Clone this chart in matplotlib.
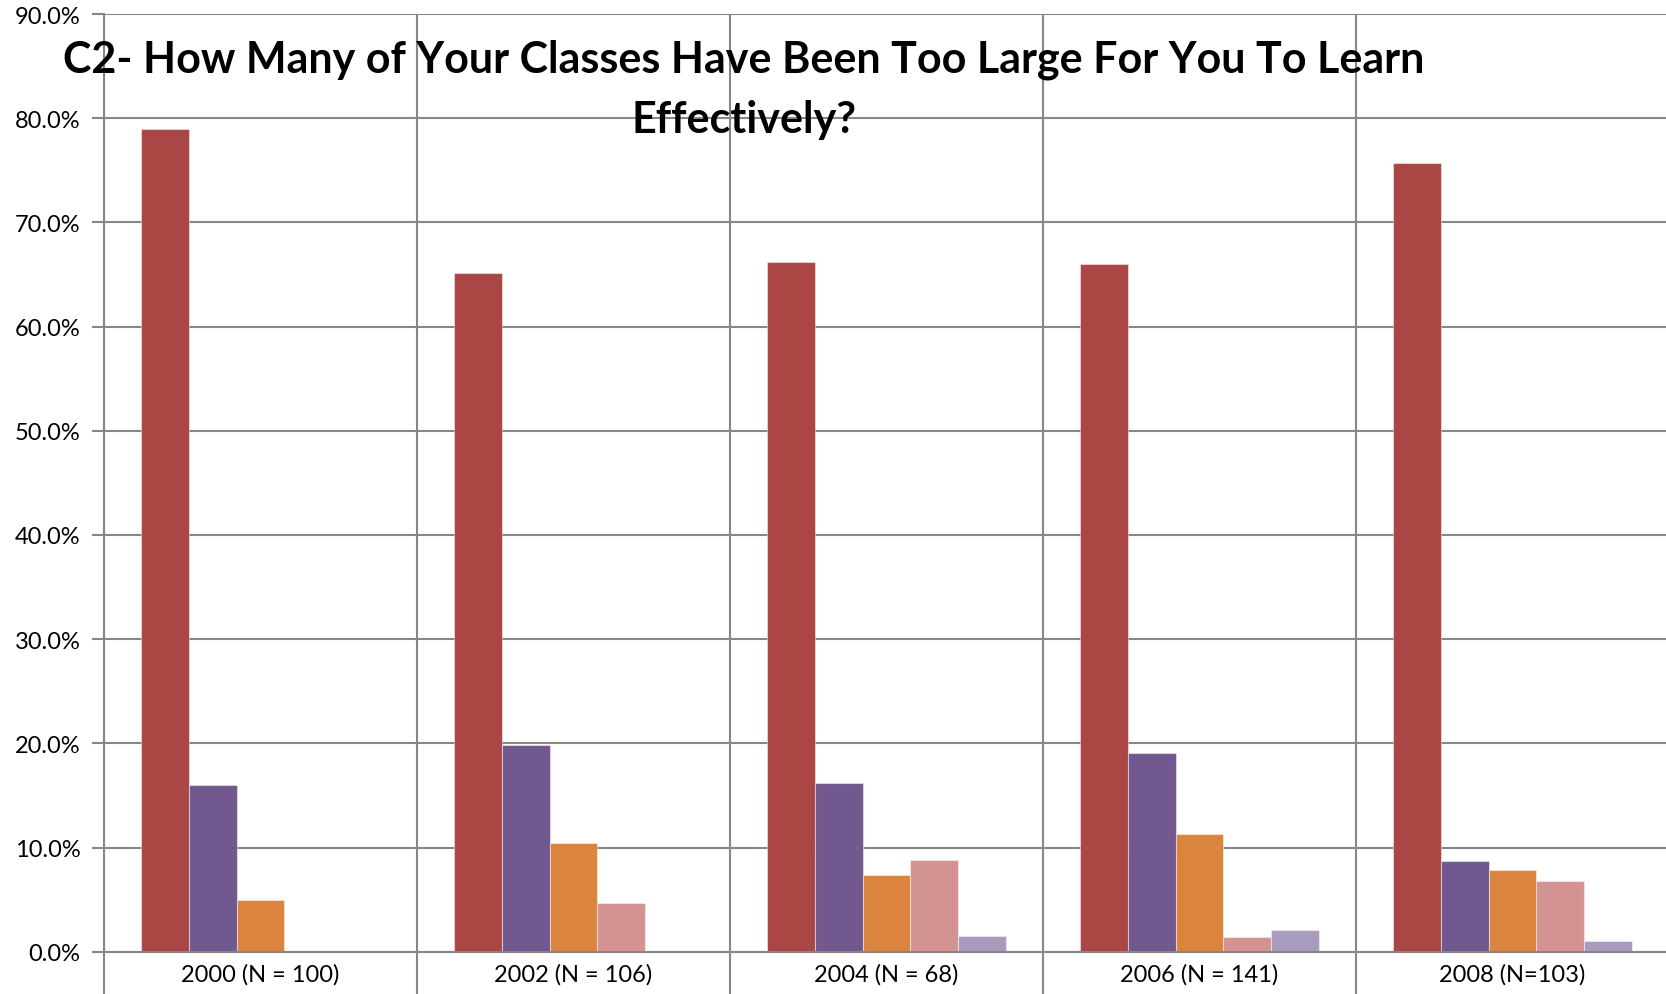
import matplotlib
matplotlib.use("Agg")
import matplotlib.pyplot as plt
import numpy as np
from matplotlib.ticker import FixedLocator, FuncFormatter

plt.rcParams['font.family'] = ['Lato', 'DejaVu Sans']

# Survey years with respondent counts
categories = ["2000 (N = 100)", "2002 (N = 106)", "2004 (N = 68)",
              "2006 (N = 141)", "2008 (N=103)"]

# Share of respondents (%) for each answer option, one list per option
series_a = [79.0, 65.1, 66.2, 66.0, 75.7]
series_b = [16.0, 19.8, 16.2, 19.1, 8.7]
series_c = [5.0, 10.4, 7.4, 11.3, 7.8]
series_d = [0.0, 4.7, 8.8, 1.4, 6.8]
series_e = [0.0, 0.0, 1.5, 2.1, 1.0]

series = [series_a, series_b, series_c, series_d, series_e]
colors = ["#AA4644", "#71598F", "#DB843E", "#D39392", "#A99BBE"]

title_lines = ["C2- How Many of Your Classes Have Been Too Large For You To Learn",
               "Effectively?"]

W, H = 1666, 995
fig = plt.figure(figsize=(W / 100, H / 100), dpi=100)
ax = fig.add_axes([104 / W, 1 - 952.7 / H, 1565 / W, (952.7 - 15) / H])

grid_color = "#878787"
x = np.arange(len(categories))
n = len(series)
bar_w = 0.153
for i, (vals, col) in enumerate(zip(series, colors)):
    offs = (i - (n - 1) / 2) * bar_w
    ax.bar(x + offs, vals, width=bar_w, color=col, edgecolor=(1, 1, 1, 0.45),
           linewidth=0.8, zorder=3)

ax.set_xlim(-0.5, len(categories) - 0.5)
ax.set_ylim(0, 90)

# Y axis
ax.yaxis.set_major_locator(FixedLocator(np.arange(0, 91, 10)))
ax.yaxis.set_major_formatter(FuncFormatter(lambda v, p: f"{v:.1f}%"))
ax.tick_params(axis='y', length=9, width=1.5, color=grid_color, pad=8,
               labelsize=17, labelcolor="#000000")
ax.grid(axis='y', color=grid_color, linewidth=1.5, zorder=0)

# X axis: labels at group centres, separators at group boundaries
ax.set_xticks(x)
ax.set_xticklabels(categories)
ax.tick_params(axis='x', which='major', length=0, pad=8, labelsize=17,
               labelcolor="#000000")
ax.set_xticks(np.arange(-0.5, len(categories), 1.0), minor=True)
ax.tick_params(axis='x', which='minor', length=32, width=1.5, color=grid_color,
               direction='out')
ax.grid(axis='x', which='minor', color=grid_color, linewidth=1.5, zorder=0)
ax.set_axisbelow(True)

for side in ['top', 'right']:
    ax.spines[side].set_visible(False)
for side in ['left', 'bottom']:
    ax.spines[side].set_color(grid_color)
    ax.spines[side].set_linewidth(1.5)
    ax.spines[side].set_zorder(4)

# Two-line title, each line placed on its own baseline
for line, base in zip(title_lines, [72, 133]):
    fig.text(744 / W, 1 - base / H, line, ha='center', va='baseline',
             fontsize=31, fontweight='bold', color="#000000", zorder=10)

fig.savefig("out.png", dpi=100)
